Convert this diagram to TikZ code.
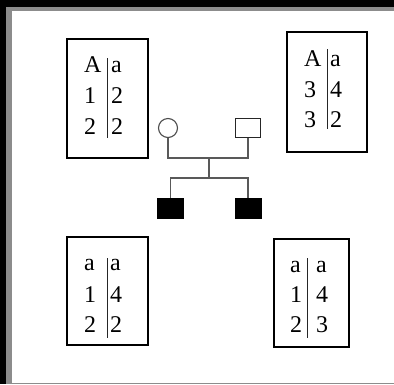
\documentclass[tikz,border=0pt]{standalone}
\usepackage{fontspec}
\setmainfont{Liberation Serif}
\begin{document}
\begin{tikzpicture}[x=1pt,y=-1pt,
  genobox/.style={draw=black,line width=2pt,inner sep=0pt,rectangle},
  allele/.style={anchor=base west,inner sep=0pt,font=\fontsize{24}{31}\selectfont},
  divider/.style={draw=black!85,line width=1pt},
  pedline/.style={draw=black!65,line width=1.1pt},
  female/.style={circle,draw=black!70,line width=1.1pt,minimum size=19pt,inner sep=0pt},
  maleopen/.style={rectangle,draw=black!85,line width=1.3pt,minimum width=25pt,minimum height=19pt,inner sep=0pt},
  affected/.style={rectangle,fill=black,minimum width=27pt,minimum height=21pt,inner sep=0pt}]
% window frame
\useasboundingbox (0,0) rectangle (394,384);
\fill[black] (0,0) rectangle (394,384);
\fill[black!45] (6,7) rectangle (394,384);
\fill[white] (12,11) rectangle (394,383);

% haplotype boxes
\node[genobox,minimum width=81pt,minimum height=119pt] (box1) at (107.5,98.5) {};
\node[genobox,minimum width=80pt,minimum height=120pt] (box2) at (327,92) {};
\node[genobox,minimum width=81pt,minimum height=108pt] (box3) at (107.5,291) {};
\node[genobox,minimum width=75pt,minimum height=108pt] (box4) at (311.5,293) {};

% box 1
\node[allele] (b1l1) at (84,72) {A};
\node[allele] (b1r1) at (111,72) {a};
\node[allele] (b1l2) at (84,103) {1};
\node[allele] (b1r2) at (111,103) {2};
\node[allele] (b1l3) at (84,134) {2};
\node[allele] (b1r3) at (111,134) {2};
\draw[divider] (107,58) -- (107,138);

% box 2
\node[allele] (b2l1) at (304,66) {A};
\node[allele] (b2r1) at (330,66) {a};
\node[allele] (b2l2) at (304,97) {3};
\node[allele] (b2r2) at (330,97) {4};
\node[allele] (b2l3) at (304,127) {3};
\node[allele] (b2r3) at (330,127) {2};
\draw[divider] (327,49) -- (327,129);

% box 3
\node[allele] (b3l1) at (84,270) {a};
\node[allele] (b3r1) at (110,270) {a};
\node[allele] (b3l2) at (84,302) {1};
\node[allele] (b3r2) at (110,302) {4};
\node[allele] (b3l3) at (84,332) {2};
\node[allele] (b3r3) at (110,332) {2};
\draw[divider] (107,258) -- (107,338);

% box 4
\node[allele] (b4l1) at (290,272) {a};
\node[allele] (b4r1) at (316,272) {a};
\node[allele] (b4l2) at (290,302) {1};
\node[allele] (b4r2) at (316,302) {4};
\node[allele] (b4l3) at (290,332) {2};
\node[allele] (b4r3) at (316,332) {3};
\draw[divider] (307,258) -- (307,338);

% pedigree
\node[female] (mother) at (168,128) {};
\node[maleopen] (father) at (248,128) {};
\node[affected] (son1) at (170.5,208.5) {};
\node[affected] (son2) at (248,208.5) {};
\coordinate (mate) at (209,158);
\coordinate (sibs) at (209,178);
\draw[pedline] (mother.south) |- (mate) -| (father.south);
\draw[pedline] (mate) -- (sibs);
\draw[pedline] (son1.north) |- (sibs) -| (son2.north);
\end{tikzpicture}
\end{document}
